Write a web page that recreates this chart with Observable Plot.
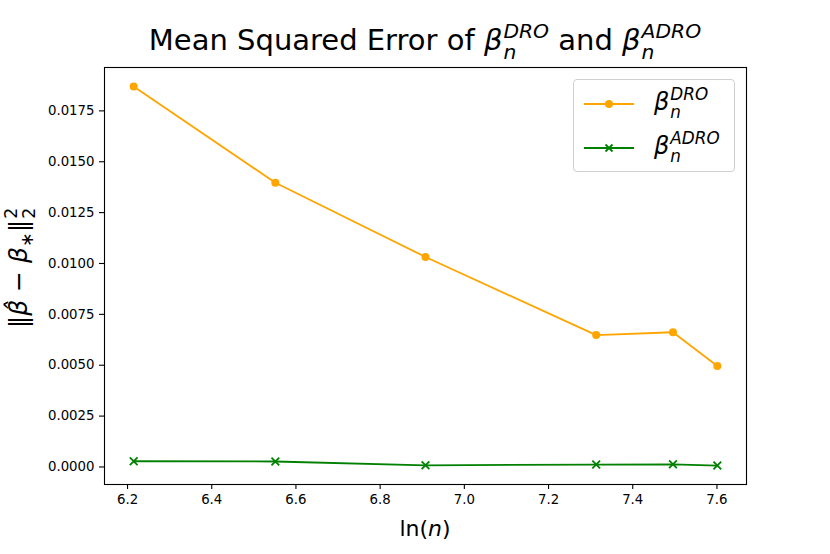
<!DOCTYPE html>
<html>
<head>
<meta charset="utf-8">
<script src="https://cdn.jsdelivr.net/npm/d3@7"></script>
<script src="https://cdn.jsdelivr.net/npm/@observablehq/plot@0.6"></script>
<style>
  html, body { margin: 0; padding: 0; background: white; }
  #wrap { position: relative; width: 830px; height: 554px; font-family: "DejaVu Sans", sans-serif; color: black; }
  #wrap > svg { position: absolute; left: 0; top: 0; }
  .title { position: absolute; left: 0; width: 850px; top: 21px; text-align: center; font-size: 29px; white-space: nowrap; line-height: 1; }
  .it { font-style: italic; }
  .ss { display: inline-block; vertical-align: -0.45em; font-size: 0.7em; line-height: 1.05; text-align: left; font-style: italic; margin-left: 1px; }
  .ss span { display: block; }
  .xlabel { position: absolute; left: 0; width: 850px; top: 518px; text-align: center; font-size: 22px; line-height: 1; white-space: nowrap; }
  .ylabel { position: absolute; left: 20px; top: 268px; font-size: 25px; line-height: 1; white-space: nowrap; transform: translate(-50%, -50%) rotate(-90deg); }
  .legend { position: absolute; left: 573px; top: 79px; width: 160px; height: 91px; border: 1px solid #d0d0d0; border-radius: 4px; background: rgba(255,255,255,0.85); }
  .entry { position: absolute; left: 9px; height: 44px; display: flex; align-items: center; font-size: 24px; }
  .entry svg { margin-right: 19px; }
</style>
</head>
<body>
<div id="wrap">
  <div class="title">Mean Squared Error of <span class="it">β</span><span class="ss"><span>DRO</span><span>n</span></span> and <span class="it">β</span><span class="ss"><span>ADRO</span><span>n</span></span></div>
  <div class="ylabel">‖<span class="it">β̂</span> − <span class="it">β</span><sub style="font-size:0.7em">∗</sub>‖<span class="ss" style="font-style:normal"><span>2</span><span>2</span></span></div>
  <div class="xlabel">ln(<span class="it">n</span>)</div>
  <div class="legend">
    <div class="entry" style="top:2px">
      <svg width="52" height="12"><line x1="1" x2="51" y1="6" y2="6" stroke="orange" stroke-width="1.8"/><circle cx="26" cy="6" r="4" fill="orange"/></svg>
      <span><span class="it">β</span><span class="ss"><span>DRO</span><span>n</span></span></span>
    </div>
    <div class="entry" style="top:46px">
      <svg width="52" height="12"><line x1="1" x2="51" y1="6" y2="6" stroke="green" stroke-width="1.8"/><path d="M22.5,2.5L29.5,9.5M22.5,9.5L29.5,2.5" stroke="green" stroke-width="1.8"/></svg>
      <span><span class="it">β</span><span class="ss"><span>ADRO</span><span>n</span></span></span>
    </div>
  </div>
</div>
<script>
// ln(n) sample sizes
const lnN = [Math.log(500), Math.log(700), Math.log(1000), Math.log(1500), Math.log(1800), Math.log(2000)];
const mseDRO  = [0.01870, 0.01397, 0.01032, 0.00648, 0.00662, 0.00496];
const mseADRO = [0.00028, 0.00027, 0.00008, 0.00012, 0.00013, 0.00007];
const xTicks = [6.2, 6.4, 6.6, 6.8, 7.0, 7.2, 7.4, 7.6];
const yTicks = [0, 0.0025, 0.005, 0.0075, 0.01, 0.0125, 0.015, 0.0175];

const dro  = lnN.map((x, i) => ({x, y: mseDRO[i]}));
const adro = lnN.map((x, i) => ({x, y: mseADRO[i]}));

const pad = (lo, hi) => [lo - 0.05 * (hi - lo), hi + 0.05 * (hi - lo)];
const xDomain = pad(d3.min(lnN), d3.max(lnN));
const allY = mseDRO.concat(mseADRO);
const yDomain = pad(d3.min(allY), d3.max(allY));

const chart = Plot.plot({
  width: 830,
  height: 554,
  marginTop: 67,
  marginLeft: 104,
  marginRight: 84,
  marginBottom: 70,
  style: { fontFamily: "DejaVu Sans, sans-serif", fontSize: "13.3px", color: "black", background: "transparent" },
  x: { domain: xDomain, label: null },
  y: { domain: yDomain, label: null },
  marks: [
    Plot.axisX({ ticks: xTicks, tickFormat: d3.format(".1f"), tickSize: 5, tickPadding: 5, label: null, stroke: "black", strokeWidth: 1.1 }),
    Plot.axisY({ ticks: yTicks, tickFormat: d3.format(".4f"), tickSize: 5, tickPadding: 5, label: null, stroke: "black", strokeWidth: 1.1 }),
    Plot.line(dro, { x: "x", y: "y", stroke: "orange", strokeWidth: 1.8 }),
    Plot.dot(dro, { x: "x", y: "y", r: 4, fill: "orange", stroke: "none" }),
    Plot.line(adro, { x: "x", y: "y", stroke: "green", strokeWidth: 1.8 }),
    Plot.dot(adro, { x: "x", y: "y", symbol: "times", r: 3.6, stroke: "green", strokeWidth: 1.8, fill: "none" }),
    Plot.frame({ stroke: "black", strokeWidth: 1.1 })
  ]
});
document.getElementById("wrap").prepend(chart);
</script>
</body>
</html>
